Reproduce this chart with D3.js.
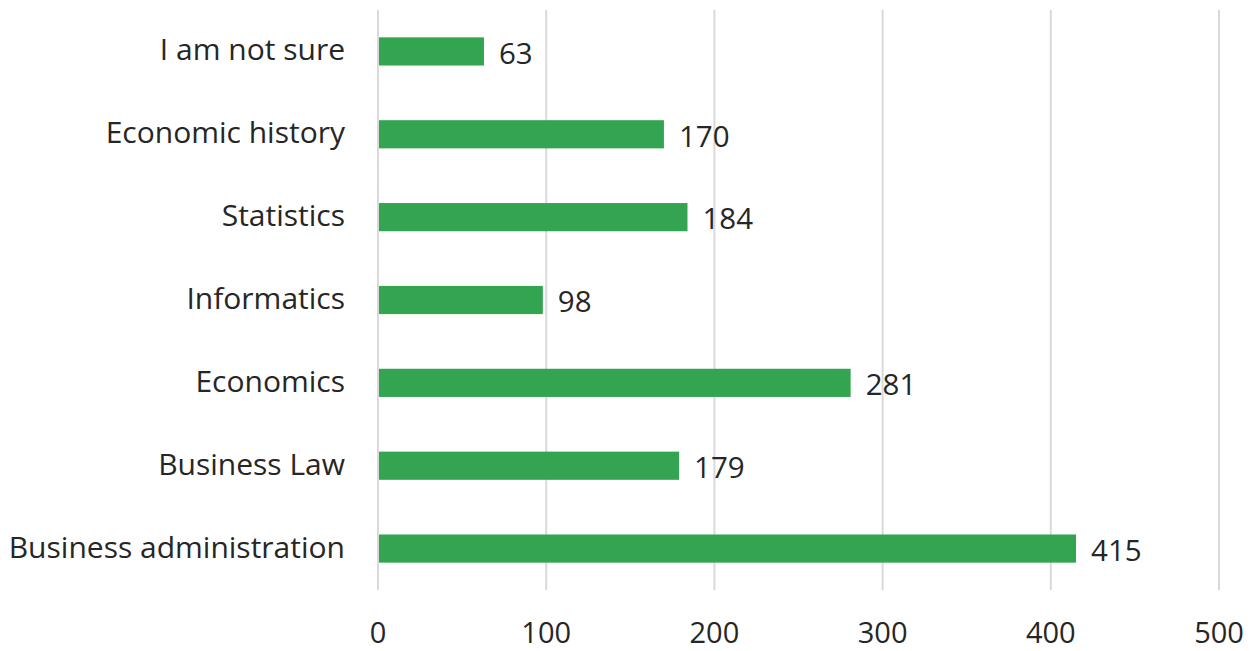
<!DOCTYPE html>
<html><head><meta charset="utf-8">
<script src="https://cdn.jsdelivr.net/npm/d3@7"></script>
<style>body{margin:0;background:#fff;}svg{display:block;}</style>
</head><body>
<svg id="c" width="1258" height="651"></svg>
<script>
const categories = ["I am not sure","Economic history","Statistics","Informatics","Economics","Business Law","Business administration"];
const values = [63,170,184,98,281,179,415];
const ticks = [0,100,200,300,400,500];

const svg = d3.select("#c");
const margin = {left:378, right:39, top:10, bottom:61};
const W = 1258, H = 651;
const x = d3.scaleLinear().domain([0,500]).range([margin.left, W - margin.right]);
const y = d3.scaleBand().domain(categories).range([margin.top, H - margin.bottom]).paddingInner(0.66).paddingOuter(0.33);
const font = "'Open Sans', 'Noto Sans', sans-serif";
const txt = "#262626";
const fs = 30;

svg.append("g").selectAll("line").data(ticks).join("line")
  .attr("x1", d=>x(d)).attr("x2", d=>x(d))
  .attr("y1", margin.top).attr("y2", H - margin.bottom)
  .attr("stroke", "#d9d9d9").attr("stroke-width", 2);

svg.append("g").selectAll("text").data(ticks).join("text")
  .attr("x", d=>x(d)).attr("y", 643)
  .attr("text-anchor","middle").attr("font-family",font).attr("font-size",29).attr("fill",txt)
  .text(d=>d);

svg.append("g").selectAll("text").data(categories).join("text")
  .attr("x", 345).attr("y", d=>y(d)+y.bandwidth()/2).attr("dy","0.3em")
  .attr("text-anchor","end").attr("font-family",font).attr("font-size",fs).attr("fill",txt)
  .text(d=>d);

svg.append("g").selectAll("rect").data(values).join("rect")
  .attr("x", x(0)+1).attr("y", (d,i)=>y(categories[i]))
  .attr("width", d=>x(d)-x(0)-1).attr("height", y.bandwidth())
  .attr("fill", "#33a450");

svg.append("g").selectAll("text").data(values).join("text")
  .attr("x", d=>x(d)+15).attr("y", (d,i)=>y(categories[i])+y.bandwidth()/2+2).attr("dy","0.35em")
  .attr("font-family",font).attr("font-size",29.5).attr("fill",txt)
  .text(d=>d);
</script>
</body></html>
